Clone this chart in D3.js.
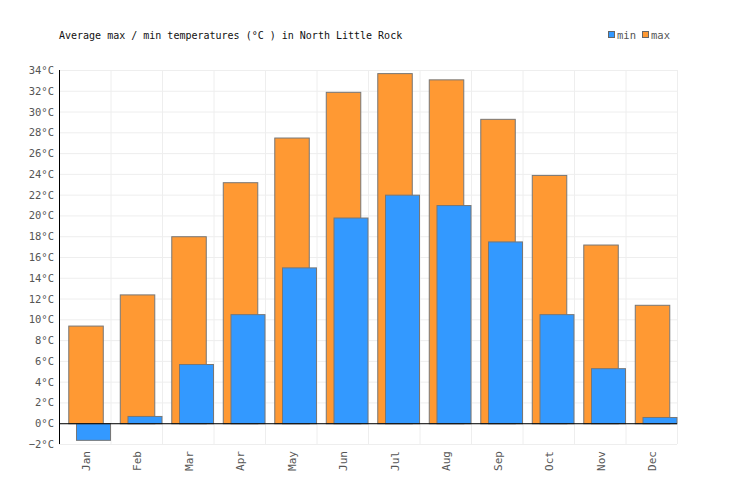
<!DOCTYPE html>
<html><head><meta charset="utf-8">
<script src="https://cdn.jsdelivr.net/npm/d3@7"></script>
<style>body{margin:0;background:#fff}text{font-family:"DejaVu Sans Mono",monospace}</style>
</head><body><svg id="c" width="736" height="500"></svg>
<script>
const months=["Jan","Feb","Mar","Apr","May","Jun","Jul","Aug","Sep","Oct","Nov","Dec"];
const maxT=[9.4,12.4,18.0,23.2,27.5,31.9,33.7,33.1,29.3,23.9,17.2,11.4];
const minT=[-1.6,0.7,5.7,10.5,15.0,19.8,22.0,21.0,17.5,10.5,5.3,0.6];
const yTicks=d3.range(-2,35,2);
const title="Average max / min temperatures (°C ) in North Little Rock";

const svg=d3.select("#c");
const L=59,R=677,T=70,B=444;
const x=d3.scaleBand().domain(months).range([L,R]);
const y=d3.scaleLinear().domain([-2,34]).range([B,T]);
const bw=x.bandwidth();

// grid
svg.append("g").selectAll("line").data(yTicks).join("line")
 .attr("x1",L).attr("x2",R).attr("y1",d=>y(d)+0.5).attr("y2",d=>y(d)+0.5)
 .attr("stroke","#eeeeee");
svg.append("g").selectAll("line").data(months.slice(1).concat(["_end"])).join("line")
 .attr("x1",d=>d==="_end"?R+0.5:x(d)+0.5).attr("x2",d=>d==="_end"?R+0.5:x(d)+0.5)
 .attr("y1",T).attr("y2",B).attr("stroke","#eeeeee");

// max bars
svg.append("g").selectAll("rect").data(maxT).join("rect")
 .attr("x",(d,i)=>x(months[i])+bw*0.18+0.5).attr("width",bw*0.67)
 .attr("y",d=>y(Math.max(d,0))+0.5).attr("height",d=>Math.abs(y(d)-y(0)))
 .attr("fill","#ff9933").attr("stroke","#777").attr("stroke-width",1);
// min bars
svg.append("g").selectAll("rect").data(minT).join("rect")
 .attr("x",(d,i)=>x(months[i])+bw*0.33+0.5).attr("width",bw*0.67-0.5)
 .attr("y",d=>y(Math.max(d,0))+0.5).attr("height",d=>Math.abs(y(d)-y(0)))
 .attr("fill","#3399ff").attr("stroke","#777").attr("stroke-width",1);

// zero line & y axis
svg.append("line").attr("x1",L).attr("x2",R).attr("y1",y(0)+0.5).attr("y2",y(0)+0.5).attr("stroke","#000");
svg.append("line").attr("x1",L+0.5).attr("x2",L+0.5).attr("y1",T).attr("y2",B).attr("stroke","#000");

// y labels
svg.append("g").selectAll("text").data(yTicks).join("text")
 .attr("x",L-5).attr("y",d=>y(d)+4).attr("text-anchor","end")
 .attr("font-size",10.5).attr("fill","#555").text(d=>(d<0?"\u2212"+(-d):d)+"°C");
// x labels
svg.append("g").selectAll("text").data(months).join("text")
 .attr("transform",d=>`translate(${x(d)+bw/2+5},451) rotate(-90)`)
 .attr("text-anchor","end").attr("font-size",11).attr("fill","#555").text(d=>d);

// title
svg.append("text").attr("x",L).attr("y",39).attr("font-size",10).attr("fill","#111").text(title);
// legend
const leg=[{k:"min",c:"#3399ff",x:608},{k:"max",c:"#ff9933",x:642}];
const lg=svg.append("g").selectAll("g").data(leg).join("g");
lg.append("rect").attr("x",d=>d.x+0.5).attr("y",31.5).attr("width",6).attr("height",6).attr("fill",d=>d.c).attr("stroke","#666");
lg.append("text").attr("x",d=>d.x+9).attr("y",39).attr("font-size",10.5).attr("fill","#555").text(d=>d.k);
</script></body></html>
